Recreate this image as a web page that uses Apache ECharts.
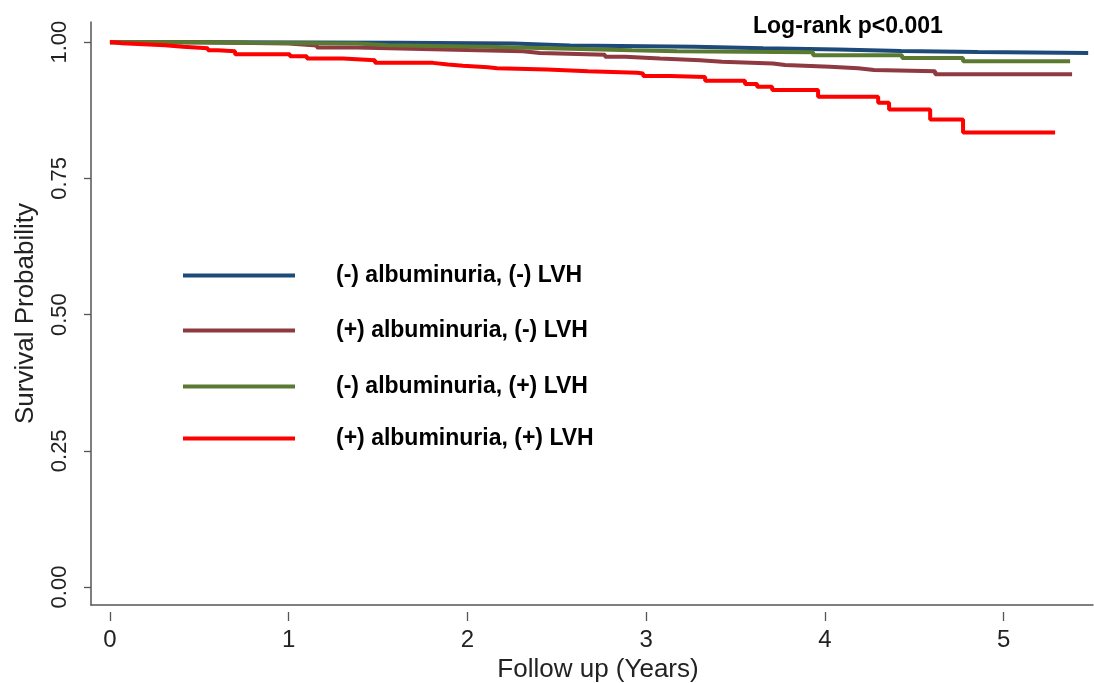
<!DOCTYPE html>
<html>
<head>
<meta charset="utf-8">
<script src="https://cdn.jsdelivr.net/npm/echarts@6/dist/echarts.min.js"></script>
<style>html,body{margin:0;padding:0;background:#fff}#c{width:1094px;height:683px}</style>
</head>
<body>
<div id="c"></div>
<script>
var seriesNames = ['(-) albuminuria, (-) LVH', '(+) albuminuria, (-) LVH', '(-) albuminuria, (+) LVH', '(+) albuminuria, (+) LVH'];
var xTicks = [0, 1, 2, 3, 4, 5];
var yTicks = [0, 0.25, 0.5, 0.75, 1];
var yTickLabels = ['0.00', '0.25', '0.50', '0.75', '1.00'];

var negAlbNegLVH = [[0,1.0],[0.69,0.999],[1.606,0.9976],[2.255,0.994],[2.574,0.9914],[3.274,0.989],[3.654,0.9866],[4.074,0.984],[4.426,0.982],[4.857,0.980],[5.473,0.980]];
var posAlbNegLVH = [[0,1.0],[0.5,0.9975],[1.0,0.994],[1.158,0.990],[1.382,0.987],[1.807,0.9835],[2.311,0.980],[2.406,0.977],[2.77,0.973],[2.882,0.970],[3.078,0.967],[3.302,0.964],[3.425,0.961],[3.710,0.958],[3.777,0.9547],[4.029,0.952],[4.186,0.949],[4.275,0.9468],[4.617,0.941],[5.383,0.941]];
var negAlbPosLVH = [[0,1.0],[0.448,0.9987],[0.767,0.9976],[1.382,0.9945],[1.556,0.991],[2.166,0.988],[2.574,0.9853],[2.921,0.9835],[3.173,0.9817],[3.934,0.976],[4.432,0.971],[4.773,0.965],[5.372,0.965]];
var posAlbPosLVH = [[0,1.0],[0.017,0.998],[0.067,0.9945],[0.308,0.9914],[0.409,0.989],[0.548,0.9853],[0.604,0.9835],[0.700,0.978],[1.007,0.9743],[1.102,0.970],[1.304,0.967],[1.483,0.962],[1.807,0.959],[1.891,0.9565],[1.975,0.954],[2.115,0.952],[2.166,0.950],[2.445,0.9468],[2.675,0.944],[2.949,0.9426],[2.983,0.938],[3.134,0.936],[3.330,0.929],[3.553,0.923],[3.621,0.918],[3.705,0.912],[3.962,0.900],[4.298,0.889],[4.359,0.8765],[4.589,0.858],[4.773,0.834],[5.288,0.834]];

var colors = ['#1d4a78', '#8e3a40', '#5a7a32', '#ff0000'];
var datasets = [negAlbNegLVH, posAlbNegLVH, negAlbPosLVH, posAlbPosLVH];
var widths = [4, 4, 4, 4];
var legendTops = [272, 327, 383, 435];
var font = 'Liberation Sans, Arial, sans-serif';

var chart = echarts.init(document.getElementById('c'), null, {renderer: 'canvas'});

var legends = seriesNames.map(function (n, i) {
  return {
    data: [n],
    left: 178,
    top: legendTops[i] - 13,
    orient: 'horizontal',
    icon: 'rect',
    itemWidth: 112,
    itemHeight: 4,
    selectedMode: false,
    textStyle: {fontFamily: font, fontWeight: 'bold', fontSize: 23, color: '#000', padding: [0, 0, 0, 36]}
  };
});

var series = seriesNames.map(function (n, i) {
  return {
    name: n,
    type: 'line',
    step: 'end',
    data: datasets[i],
    symbol: 'none',
    color: colors[i],
    lineStyle: {width: widths[i], color: colors[i]},
    itemStyle: {color: colors[i]},
    animation: false,
    z: 2 + i
  };
});

chart.setOption({
  animation: false,
  backgroundColor: '#fff',
  title: {
    text: 'Log-rank p<0.001',
    left: 748,
    top: 10,
    textStyle: {fontFamily: font, fontWeight: 'bold', fontSize: 23, color: '#000'}
  },
  legend: legends,
  grid: {left: 91, right: 1, top: 22, bottom: 78, containLabel: false, outerBoundsMode: 'none'},
  xAxis: [{
    type: 'value', min: -0.106, max: 5.5,
    axisLine: {show: true, onZero: false, lineStyle: {color: '#555', width: 1.5}},
    axisTick: {show: false}, axisLabel: {show: false}, splitLine: {show: false}
  }, {
    type: 'value', min: -0.106, max: 5.5, position: 'bottom', offset: 7,
    axisLine: {show: false, onZero: false},
    axisTick: {show: true, length: 9, lineStyle: {color: '#555', width: 1.3}, customValues: xTicks},
    axisLabel: {show: true, margin: 16, fontFamily: font, fontSize: 24, color: '#222', customValues: xTicks},
    splitLine: {show: false},
    name: 'Follow up (Years)', nameLocation: 'middle', nameGap: 42,
    nameTextStyle: {fontFamily: font, fontSize: 26, color: '#222', padding: [0, 0, 0, 12]}
  }],
  yAxis: [{
    type: 'value', min: -0.033, max: 1.037,
    axisLine: {show: true, onZero: false, lineStyle: {color: '#555', width: 1.5}},
    axisTick: {show: true, length: 7, lineStyle: {color: '#555', width: 1.3}, customValues: yTicks},
    axisLabel: {show: true, rotate: 90, margin: 20, fontFamily: font, fontSize: 22, color: '#222', customValues: yTicks,
      formatter: function (v) { var i = yTicks.indexOf(v); return i >= 0 ? yTickLabels[i] : ''; }},
    splitLine: {show: false},
    name: 'Survival Probability', nameLocation: 'middle', nameGap: 52,
    nameTextStyle: {fontFamily: font, fontSize: 26, color: '#222'}
  }],
  series: series
});
</script>
</body>
</html>
